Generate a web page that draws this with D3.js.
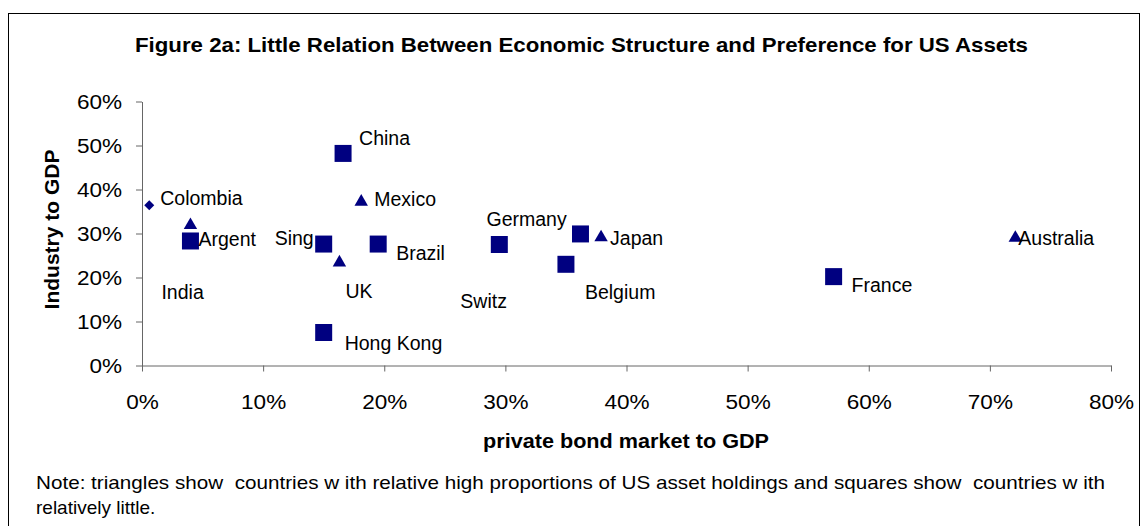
<!DOCTYPE html>
<html>
<head>
<meta charset="utf-8">
<script src="https://cdn.jsdelivr.net/npm/d3@7"></script>
<style>
  html, body { margin: 0; padding: 0; background: #fff; }
  text { font-family: "Liberation Sans", Arial, sans-serif; fill: #000; }
</style>
</head>
<body>
<svg id="chart" width="1142" height="526"></svg>
<script>
// ---- data ----
const countries = ["Colombia","Argent","India","China","Mexico","Sing","Brazil","UK","Hong Kong","Switz","Germany","Japan","Belgium","France","Australia"];
const bondMarketToGDP = [0.6, 4.0, 4.0, 16.6, 18.1, 15.0, 19.5, 16.3, 15.0, 29.5, 36.2, 37.9, 35.0, 57.1, 72.1];
const industryToGDP   = [36.4, 28.3, 31.9, 48.2, 37.2, 27.6, 27.6, 23.4, 7.5, 27.5, 29.9, 29.1, 23.0, 20.2, 29.0];
const markerShape     = ["diamond","square","triangle","square","triangle","square","square","triangle","square","square","square","triangle","square","square","triangle"];
const xTicks = [0, 10, 20, 30, 40, 50, 60, 70, 80];
const yTicks = [0, 10, 20, 30, 40, 50, 60];
const titleText = "Figure 2a: Little Relation Between Economic Structure and Preference for US Assets";
const xTitle = "private bond market to GDP";
const yTitle = "Industry to GDP";
const noteLines = ["Note: triangles show  countries w ith relative high proportions of US asset holdings and squares show  countries w ith", "relatively little."];

// ---- layout (label placement relative to marker) ----
const labelLayout = {
  "Colombia": [11, -7, "start"], "Argent": [8, -2, "start"], "India": [-29, 67, "start"],
  "China": [16, -15, "start"], "Mexico": [13, -3, "start"], "Sing": [-10, -6, "end"],
  "Brazil": [18, 9, "start"], "UK": [6, 29, "start"], "Hong Kong": [21, 11, "start"],
  "Switz": [-39, 57, "start"], "Germany": [-94, -15, "start"], "Japan": [9, 1, "start"],
  "Belgium": [19, 28, "start"], "France": [18, 9, "start"], "Australia": [3, 0, "start"]
};

const svg = d3.select("#chart");
const navy = "#000080";
const axisColor = "#666";

// outer frame
svg.append("rect").attr("x", 8.5).attr("y", 13.5).attr("width", 1131).attr("height", 530)
  .attr("fill", "none").attr("stroke", "#000").attr("stroke-width", 1);

const x = d3.scaleLinear().domain([0, 80]).range([142, 1111]);
const y = d3.scaleLinear().domain([0, 60]).range([365.5, 101.5]);

// title
svg.append("text").attr("x", 135).attr("y", 52)
  .attr("font-size", 20.5).attr("font-weight", "bold")
  .attr("textLength", 893).attr("lengthAdjust", "spacingAndGlyphs")
  .text(titleText);

// axes
const yAxis = svg.append("g").attr("transform", `translate(${x(0)},0)`)
  .call(d3.axisLeft(y).tickValues(yTicks).tickSize(6).tickSizeOuter(0).tickFormat(d => d + "%"));
yAxis.select(".domain").attr("stroke", axisColor);
yAxis.selectAll(".tick line").attr("stroke", axisColor);
yAxis.selectAll(".tick text")
  .attr("font-family", "Liberation Sans, Arial, sans-serif").attr("font-size", 20.5)
  .attr("x", 0).attr("dy", "0.35em")
  .attr("transform", "translate(-20,0) scale(1.1,1)")
  .attr("fill", "#000");

const xAxis = svg.append("g").attr("transform", `translate(0,${y(0)})`)
  .call(d3.axisBottom(x).tickValues(xTicks).tickSize(6).tickSizeOuter(0).tickFormat(d => d + "%"));
xAxis.select(".domain").attr("stroke", axisColor);
xAxis.selectAll(".tick line").attr("stroke", axisColor);
xAxis.selectAll(".tick text")
  .attr("font-family", "Liberation Sans, Arial, sans-serif").attr("font-size", 20.5)
  .attr("y", 0).attr("dy", 0)
  .attr("transform", "translate(0,43) scale(1.1,1)")
  .attr("fill", "#000");

// axis titles
svg.append("text").attr("x", 483).attr("y", 448)
  .attr("font-size", 20.5).attr("font-weight", "bold")
  .attr("textLength", 286).attr("lengthAdjust", "spacingAndGlyphs")
  .text(xTitle);

svg.append("text")
  .attr("transform", `translate(59,${(y(0) + y(60)) / 2 - 4}) rotate(-90)`)
  .attr("text-anchor", "middle")
  .attr("font-size", 21).attr("font-weight", "bold")
  .text(yTitle);

// markers
const pts = countries.map((c, i) => ({ name: c, bx: bondMarketToGDP[i], iy: industryToGDP[i], shape: markerShape[i] }));
const symbolType = { square: d3.symbolSquare, triangle: d3.symbolTriangle, diamond: d3.symbolSquare };
const symbolSize = { square: 17 * 17, triangle: 78, diamond: 50 };

svg.append("g").selectAll("path").data(pts).join("path")
  .attr("transform", d => `translate(${x(d.bx)},${y(d.iy)})` + (d.shape === "diamond" ? " rotate(45)" : ""))
  .attr("d", d => d3.symbol().type(symbolType[d.shape]).size(symbolSize[d.shape])())
  .attr("fill", navy);

// data labels
svg.append("g").selectAll("text").data(pts).join("text")
  .attr("x", d => x(d.bx) + labelLayout[d.name][0])
  .attr("y", d => y(d.iy) + labelLayout[d.name][1])
  .attr("text-anchor", d => labelLayout[d.name][2])
  .attr("dy", "0.35em")
  .attr("font-size", 19.5)
  .text(d => d.name);

// note
svg.append("text").attr("x", 36).attr("y", 489)
  .attr("font-size", 19).style("white-space", "pre")
  .attr("textLength", 1069).attr("lengthAdjust", "spacingAndGlyphs")
  .text(noteLines[0]);
svg.append("text").attr("x", 36).attr("y", 514)
  .attr("font-size", 19)
  .text(noteLines[1]);
</script>
</body>
</html>
